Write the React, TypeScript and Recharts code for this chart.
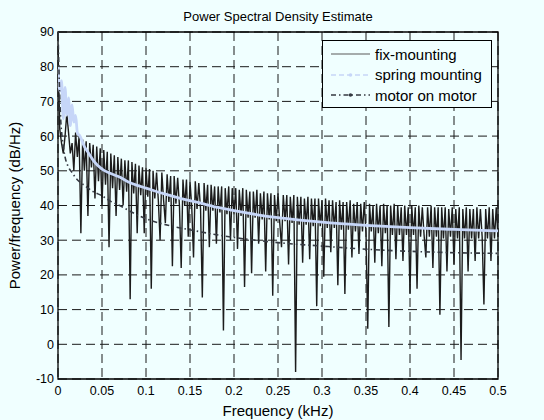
import React from 'react';
import { LineChart, Line, XAxis, YAxis, CartesianGrid, ReferenceArea } from 'recharts';

// fix-mounting PSD, one value every 0.002 kHz from 0 to 0.5
const fixPsd = [
  86, 62, 58, 55, 60, 66.5, 61, 55, 58, 50,
  61, 54, 60, 32, 59, 50, 58.5, 37, 58, 51,
  57.5, 42, 57, 47, 56.5, 40, 56, 46, 55.5, 28,
  55, 45, 54.5, 37, 54, 44.5, 53.5, 40, 53, 44,
  53, 13, 52.5, 43.5, 52, 32, 51.5, 43, 51, 32,
  51, 42.5, 50.5, 16, 50, 42, 49.5, 41.5, 30, 49.5,
  41.5, 35, 49, 41, 48.5, 22.5, 48.5, 40.5, 48, 40,
  22, 47.5, 40, 47.5, 31, 47, 39.5, 25, 47, 39,
  46.5, 39, 13.5, 46.5, 38.5, 46, 28, 46, 38.5, 45.5,
  29, 45.5, 38, 45.5, 4, 45, 37.5, 45.5, 30, 45,
  37.5, 45, 27.5, 44.5, 37, 45, 16.5, 44.5, 36.5, 44,
  20.5, 44, 36.5, 44.5, 29, 43.5, 36, 44, 21, 43.5,
  36, 43.5, 14, 43, 35.5, 43.5, 35, 28, 43, 35.5,
  43, 23, 42.5, 35, 43, -8, 42.5, 34.5, 42.5, 23.5,
  42, 34.5, 42.5, 24.5, 42, 34, 42, 11, 42, 34,
  41.5, 19.5, 42, 33.5, 41.5, 26.5, 41.5, 33.5, 41, 17,
  41.5, 33, 41, 14.5, 41, 33, 41.5, 25, 40.5, 32.5,
  41, 26, 40.5, 32.5, 41, 32, 4.5, 40.5, 32.5, 40,
  23.5, 40.5, 32, 40, 22.5, 40.5, 32, 40, 5, 40,
  31.5, 40.5, 24.5, 40, 31.5, 39.5, 24, 40, 31.5, 39.5,
  14.5, 40, 31.5, 39.5, 16, 40, 31, 39.5, 31.5, 25,
  39.5, 31, 40, 22, 39.5, 31, 39.5, 8.5, 39.5, 30.5,
  39.5, 21, 39, 31, 39.5, 23, 39, 30.5, 39.5, -4.5,
  39, 30.5, 39.5, 21, 39, 30.5, 39, 24, 39.5, 30.5,
  39, 31, 11.5, 39, 30.5, 39.5, 24, 39, 30.5, 39.5,
  31,
];
const fixStep = 0.002;

const springFreq = [0, 0.002, 0.004, 0.006, 0.008, 0.01, 0.012, 0.014, 0.016, 0.018, 0.02, 0.022, 0.025, 0.03, 0.035, 0.04, 0.05, 0.06, 0.07, 0.08, 0.09, 0.1, 0.12, 0.14, 0.16, 0.18, 0.2, 0.225, 0.25, 0.275, 0.3, 0.35, 0.4, 0.45, 0.5];
const springPsd = [80, 73, 76, 65, 74, 66, 71, 63, 69, 64, 66, 61, 60, 57, 55, 53, 50.5, 49.2, 48.2, 46.8, 45.8, 45, 43.4, 42, 40.8, 39.5, 38.5, 37.4, 36.5, 35.8, 35.2, 34.3, 33.6, 33.1, 32.7];

const motorFreq = [0, 0.001, 0.002, 0.003, 0.005, 0.008, 0.012, 0.016, 0.02, 0.03, 0.04, 0.05, 0.06, 0.07, 0.08, 0.09, 0.1, 0.125, 0.15, 0.175, 0.2, 0.25, 0.3, 0.35, 0.4, 0.45, 0.5];
const motorPsd = [90, 80, 71, 65, 59, 54, 51, 49.5, 48, 45.8, 44, 42.8, 41.2, 40, 38.6, 37.3, 36.2, 34.3, 33, 31.8, 30.8, 29.3, 28.3, 27.4, 26.8, 26.4, 26.2];

const xTicks = [0, 0.05, 0.1, 0.15, 0.2, 0.25, 0.3, 0.35, 0.4, 0.45, 0.5];
const yTicks = [-10, 0, 10, 20, 30, 40, 50, 60, 70, 80, 90];

const fixData = fixPsd.map((v, i) => ({ f: +(i * fixStep).toFixed(3), v }));
const springData = springFreq.map((f, i) => ({ f, v: springPsd[i] }));
const motorData = motorFreq.map((f, i) => ({ f, v: motorPsd[i] }));

const FONT = 'Arial, "Liberation Sans", Helvetica, sans-serif';
const BG = '#f0ffff';
const FIX_COLOR = '#1c1c1c';
const SPRING_COLOR = '#c6d6f8';
const MOTOR_COLOR = '#353a42';

// legend drawn as a box over the top right of the plot, like MATLAB's
const LegendBox = () => {
  const rows = [
    { name: 'fix-mounting', color: '#5a5a5a', dash: undefined, dot: false, width: 1.2 },
    { name: 'spring mounting', color: SPRING_COLOR, dash: '5 3', dot: true, width: 1.5 },
    { name: 'motor on motor', color: MOTOR_COLOR, dash: '5 3 1.5 3', dot: true, width: 1.3 },
  ];
  return (
    <div
      style={{
        position: 'absolute',
        left: 322,
        top: 40,
        width: 168,
        height: 63,
        border: '1px solid #000',
        background: BG,
        fontFamily: FONT,
        fontSize: 15,
        paddingTop: 3,
      }}
    >
      {rows.map((r) => (
        <div key={r.name} style={{ display: 'flex', alignItems: 'center', height: 20.5 }}>
          <svg width={52} height={10} style={{ flex: 'none' }}>
            <line x1={8} y1={5} x2={47} y2={5} stroke={r.color} strokeWidth={r.width} strokeDasharray={r.dash} />
            {r.dot && <circle cx={27.5} cy={5} r={1.8} fill={r.color} />}
          </svg>
          <span style={{ color: '#000', lineHeight: '15px' }}>{r.name}</span>
        </div>
      ))}
    </div>
  );
};

export default function App() {
  return (
    <div style={{ position: 'absolute', left: 0, top: 0, width: 544, height: 420, background: BG, fontFamily: FONT }}>
      <style>{`body{margin:0;background:${BG};}`}</style>
      <div
        style={{
          position: 'absolute',
          left: 58,
          width: 440,
          top: 10,
          textAlign: 'center',
          fontSize: 13,
          lineHeight: '13px',
          color: '#000',
        }}
      >
        Power Spectral Density Estimate
      </div>
      <LineChart width={544} height={420} margin={{ top: 32, right: 46, left: 0, bottom: 0 }}>
        <CartesianGrid stroke="#1a1a1a" strokeDasharray="9 5" strokeWidth={1} />
        <XAxis
          type="number"
          dataKey="f"
          domain={[0, 0.5]}
          ticks={xTicks}
          allowDataOverflow
          height={41}
          tickLine={false}
          axisLine={false}
          tickSize={4}
          tickMargin={3.5}
          tick={{ fill: '#000', fontSize: 12.5, fontFamily: FONT }}
          tickFormatter={(v: number) => String(v)}
          label={{ value: 'Frequency (kHz)', position: 'insideBottom', offset: 4, fill: '#000', fontSize: 15, fontFamily: FONT }}
        />
        <YAxis
          type="number"
          domain={[-10, 90]}
          ticks={yTicks}
          allowDataOverflow
          width={58}
          tickLine={false}
          axisLine={false}
          tickSize={4}
          tickMargin={0}
          tick={{ fill: '#000', fontSize: 12.5, fontFamily: FONT }}
          label={{
            value: 'Power/frequency (dB/Hz)',
            angle: -90,
            position: 'insideLeft',
            offset: 15,
            fill: '#000',
            fontSize: 15,
            fontFamily: FONT,
            style: { textAnchor: 'middle' },
          }}
        />
        <Line
          data={fixData}
          dataKey="v"
          name="fix-mounting"
          type="linear"
          stroke={FIX_COLOR}
          strokeWidth={1.4}
          dot={false}
          isAnimationActive={false}
        />
        <Line
          data={springData}
          dataKey="v"
          name="spring mounting"
          type="monotone"
          stroke={SPRING_COLOR}
          strokeWidth={2.8}
          dot={false}
          isAnimationActive={false}
        />
        <Line
          data={motorData}
          dataKey="v"
          name="motor on motor"
          type="monotone"
          stroke={MOTOR_COLOR}
          strokeWidth={1.6}
          strokeDasharray="5 3 1.5 3"
          dot={false}
          isAnimationActive={false}
        />
        <ReferenceArea x1={0} x2={0.5} y1={-10} y2={90} fill="none" stroke="#000" strokeWidth={1.3} />
      </LineChart>
      <LegendBox />
    </div>
  );
}
